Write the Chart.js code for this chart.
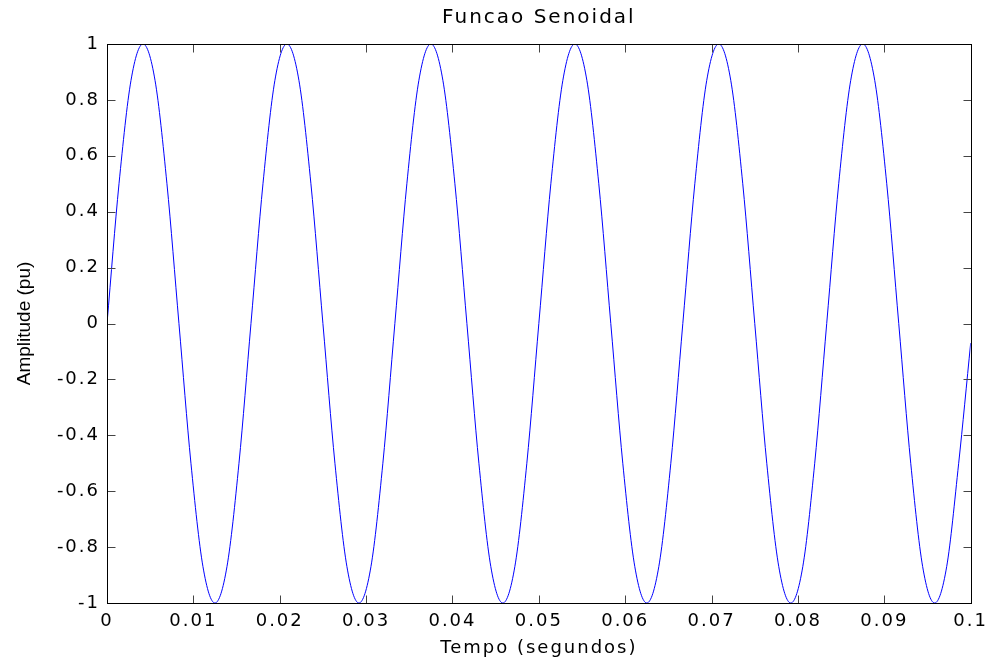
<!DOCTYPE html>
<html>
<head>
<meta charset="utf-8">
<script src="https://cdn.jsdelivr.net/npm/chart.js@4"></script>
<style>
  body { margin: 0; background: #fff; }
  #wrap { width: 993px; height: 663px; }
</style>
</head>
<body>
<div id="wrap"><canvas id="chart"></canvas></div>
<script>
// time samples (s)
const tempo = [
  0, 0.00139, 0.00278, 0.00417, 0.00556, 0.00694, 0.00833, 0.00972, 0.01111, 0.0125, 0.01389, 0.01528,
  0.01667, 0.01806, 0.01944, 0.02083, 0.02222, 0.02361, 0.025, 0.02639, 0.02778, 0.02917, 0.03056, 0.03194,
  0.03333, 0.03472, 0.03611, 0.0375, 0.03889, 0.04028, 0.04167, 0.04306, 0.04444, 0.04583, 0.04722, 0.04861,
  0.05, 0.05139, 0.05278, 0.05417, 0.05556, 0.05694, 0.05833, 0.05972, 0.06111, 0.0625, 0.06389, 0.06528,
  0.06667, 0.06806, 0.06944, 0.07083, 0.07222, 0.07361, 0.075, 0.07639, 0.07778, 0.07917, 0.08056, 0.08194,
  0.08333, 0.08472, 0.08611, 0.0875, 0.08889, 0.09028, 0.09167, 0.09306, 0.09444, 0.09583, 0.09722, 0.09861,
  0.1
];

// amplitude (pu)
const amplitude = [
  0, 0.5, 0.87, 1, 0.87, 0.5, 0, -0.5, -0.87, -1, -0.87, -0.5,
  0, 0.5, 0.87, 1, 0.87, 0.5, 0, -0.5, -0.87, -1, -0.87, -0.5,
  0, 0.5, 0.87, 1, 0.87, 0.5, 0, -0.5, -0.87, -1, -0.87, -0.5,
  0, 0.5, 0.87, 1, 0.87, 0.5, 0, -0.5, -0.87, -1, -0.87, -0.5,
  0, 0.5, 0.87, 1, 0.87, 0.5, 0, -0.5, -0.87, -1, -0.87, -0.5,
  0, 0.5, 0.87, 1, 0.87, 0.5, 0, -0.5, -0.87, -1, -0.87, -0.5,
  -0.07
];

const xTicks = [0, 0.01, 0.02, 0.03, 0.04, 0.05, 0.06, 0.07, 0.08, 0.09, 0.1];
const yTicks = [-1, -0.8, -0.6, -0.4, -0.2, 0, 0.2, 0.4, 0.6, 0.8, 1];

const titleText = "Funcao Senoidal";
const xLabel = "Tempo (segundos)";
const yLabel = "Amplitude (pu)";

Chart.defaults.font.family = "'DejaVu Sans', sans-serif";
Chart.defaults.color = "#000";

// matlab style box with inward ticks on all four sides
const boxTicks = {
  id: "boxTicks",
  beforeDraw(chart) {
    chart.ctx.letterSpacing = "2px"; // horizontal texts look wide in the original
  },
  afterDraw(chart) {
    const { ctx, chartArea: a, scales } = chart;
    const len = 8;
    const L = Math.round(a.left) + 0.5, R = Math.round(a.right) + 0.5;
    const T = Math.round(a.top) + 0.5, B = Math.round(a.bottom) + 0.5;
    ctx.save();
    ctx.strokeStyle = "#444";
    ctx.lineWidth = 1;
    ctx.beginPath();
    scales.x.ticks.forEach(t => {
      const px = Math.round(scales.x.getPixelForValue(t.value)) + 0.5;
      ctx.moveTo(px, B); ctx.lineTo(px, B - len);
      ctx.moveTo(px, T); ctx.lineTo(px, T + len);
    });
    scales.y.ticks.forEach(t => {
      const py = Math.round(scales.y.getPixelForValue(t.value)) + 0.5;
      ctx.moveTo(L, py); ctx.lineTo(L + len, py);
      ctx.moveTo(R, py); ctx.lineTo(R - len, py);
    });
    ctx.stroke();
    ctx.strokeStyle = "#000";
    ctx.strokeRect(L, T, R - L, B - T);

    // y axis label, normal spacing
    ctx.letterSpacing = "0px";
    ctx.translate(30, (a.top + a.bottom) / 2);
    ctx.rotate(-Math.PI / 2);
    ctx.font = "19px 'Liberation Sans', Arial, sans-serif";
    ctx.fillStyle = "#000";
    ctx.textAlign = "center";
    ctx.textBaseline = "alphabetic";
    ctx.fillText(yLabel, 0, 0);
    ctx.restore();
  }
};

new Chart(document.getElementById("chart"), {
  type: "line",
  data: {
    datasets: [{
      data: tempo.map((t, i) => ({ x: t, y: amplitude[i] })),
      borderColor: "#0000ff",
      borderWidth: 1,
      pointRadius: 0,
      fill: false,
      cubicInterpolationMode: "monotone"
    }]
  },
  options: {
    responsive: true,
    maintainAspectRatio: false,
    animation: false,
    layout: { padding: { left: 0, right: 18, top: 0, bottom: 0 } },
    plugins: {
      legend: { display: false },
      tooltip: { enabled: false },
      title: {
        display: true,
        fullSize: false,
        text: titleText,
        font: { size: 20, weight: "normal" },
        padding: { top: 6, bottom: 14 }
      }
    },
    scales: {
      x: {
        type: "linear",
        min: 0,
        max: 0.1,
        afterBuildTicks: s => { s.ticks = xTicks.map(v => ({ value: v })); },
        afterFit: s => { s.height = 60; },
        grid: { display: false, drawTicks: false },
        border: { display: false },
        ticks: {
          padding: 8,
          maxRotation: 0,
          autoSkip: false,
          font: { size: 18 },
          callback: v => String(v)
        },
        title: {
          display: true,
          text: xLabel,
          font: { size: 18 },
          padding: { top: 0, bottom: 4 }
        }
      },
      y: {
        min: -1,
        max: 1,
        afterBuildTicks: s => { s.ticks = yTicks.map(v => ({ value: v })); },
        afterFit: s => { s.width = 107; },
        grid: { display: false, drawTicks: false },
        border: { display: false },
        ticks: {
          padding: 7,
          autoSkip: false,
          font: { size: 18 },
          callback: v => String(v)
        },
        title: { display: false }
      }
    }
  },
  plugins: [boxTicks]
});
</script>
</body>
</html>
